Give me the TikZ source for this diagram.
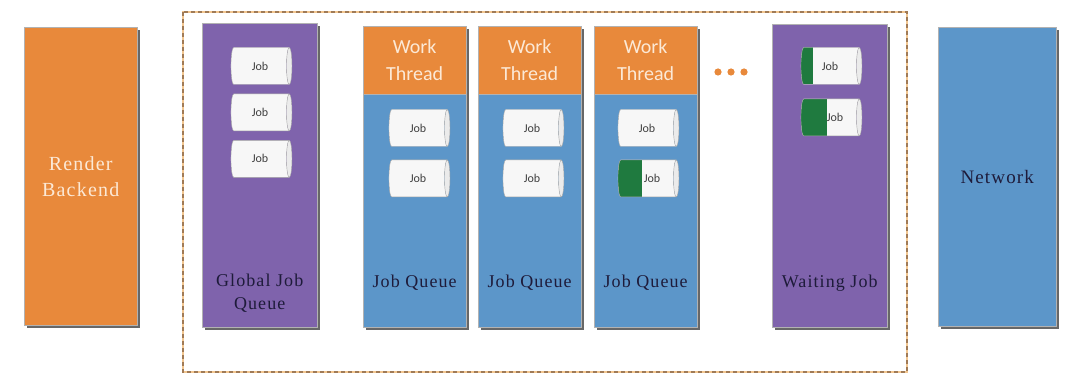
\documentclass[tikz,border=0pt]{standalone}
\usepackage{fontspec}
\setmainfont{Liberation Serif}[LetterSpace=6]
\newfontfamily\calib{Carlito}
\usetikzlibrary{positioning,shapes.geometric,shadows}

\definecolor{rorange}{HTML}{E8893B}
\definecolor{rpurple}{HTML}{7F63AC}
\definecolor{rblue}{HTML}{5C96C9}
\definecolor{jgreen}{HTML}{1F7A3F}
\definecolor{ink}{HTML}{1E1B3A}
\definecolor{cream}{HTML}{FCE9D6}
\definecolor{framebrown}{HTML}{A07A55}
\definecolor{framelight}{HTML}{F2C690}

\begin{document}
\begin{tikzpicture}[x=1pt,y=-1pt,
  col/.style={draw=black!30,anchor=north west,inner sep=0pt,align=center,
    drop shadow={shadow xshift=2.5pt,shadow yshift=-2.5pt,fill=black!70,opacity=0.85}},
  thread/.style={col,fill=rorange,text=cream,minimum width=103pt,minimum height=68pt,
    font=\calib\fontsize{20}{27}\selectfont},
  queue/.style={col,fill=rblue,anchor=north,minimum width=103pt,minimum height=233pt},
  lbl/.style={text=ink,align=center,font=\fontsize{18}{23}\selectfont},
  job/.style={cylinder,shape border rotate=0,aspect=0.65,draw=black!35,
    minimum height=61pt,minimum width=37pt,inner sep=0pt,
    cylinder uses custom fill,cylinder body fill=black!3,cylinder end fill=black!8,
    text=black!75,font=\calib\fontsize{12}{13}\selectfont},
  greenjob/.style={job,path picture={\fill[jgreen] (path picture bounding box.south west)
    rectangle ([xshift=#1]path picture bounding box.north west);}}]
\useasboundingbox (0,0) rectangle (1066,377);

% outer frame
\draw[framelight,line width=2.5pt] (183,12) rectangle (907,372);
\draw[framebrown,line width=2.5pt,dash pattern=on 4pt off 3pt] (183,12) rectangle (907,372);

% render backend / network
\node[col,fill=rorange,text=cream,minimum width=113pt,minimum height=298pt,
  font=\fontsize{20}{26}\selectfont] (render) at (24,27) {Render\\Backend};
\node[col,fill=rblue,text=ink,minimum width=118pt,minimum height=299pt,
  font=\fontsize{19}{23}\selectfont] (net) at (938,27) {Network};

% global job queue
\node[col,fill=rpurple,minimum width=115pt,minimum height=304pt] (gq) at (202,23) {};
\node[lbl,above=11pt of gq.south] (gqlbl) {Global Job\\Queue};
\node[job] (gj1) at (260,66) {Job};
\node[job,below=9pt of gj1] (gj2) {Job};
\node[job,below=9pt of gj2] (gj3) {Job};

% work threads
\node[thread] (wt1) at (363,26) {Work\\Thread};
\node[thread] (wt2) at (478,26) {Work\\Thread};
\node[thread] (wt3) at (594,26) {Work\\Thread};
\node[queue,below=0pt of wt1] (q1) {};
\node[queue,below=0pt of wt2] (q2) {};
\node[queue,below=0pt of wt3] (q3) {};
\node[lbl,above=34pt of q1.south] (q1lbl) {Job Queue};
\node[lbl,above=34pt of q2.south] (q2lbl) {Job Queue};
\node[lbl,above=34pt of q3.south] (q3lbl) {Job Queue};
\node[job] (j11) at (418,128) {Job};
\node[job,below=13pt of j11] (j12) {Job};
\node[job] (j21) at (532,128) {Job};
\node[job,below=13pt of j21] (j22) {Job};
\node[job] (j31) at (647,128) {Job};
\node[greenjob=24pt,below=13pt of j31] (j32) {\hspace*{10pt}Job};

\foreach \x in {718,731,744} \fill[rorange] (\x,72) circle (3.6pt);

% waiting jobs
\node[col,fill=rpurple,minimum width=115pt,minimum height=303pt] (wait) at (772,24) {};
\node[lbl,above=32pt of wait.south] (waitlbl) {Waiting Job};
\node[greenjob=12pt] (w1) at (830,66) {Job};
\node[greenjob=26pt,below=14pt of w1] (w2) {\hspace*{10pt}Job};
\end{tikzpicture}
\end{document}
